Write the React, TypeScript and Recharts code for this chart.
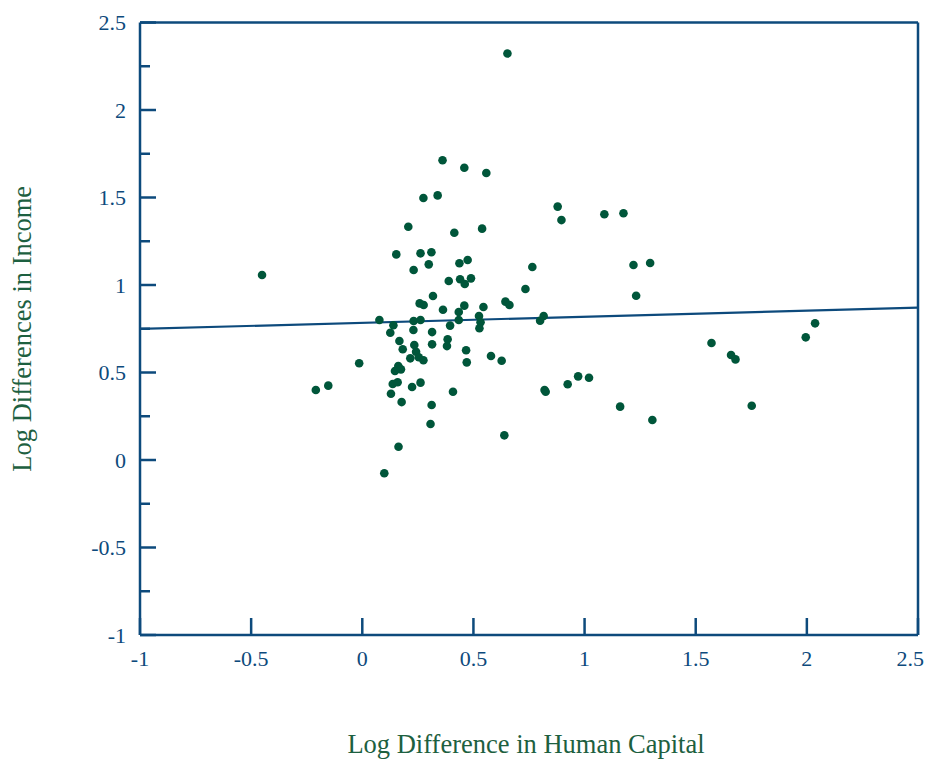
import { ScatterChart, Scatter, XAxis, YAxis, ReferenceLine, Label } from 'recharts';

const AXIS = '#0d4a7c';
const DOT = '#00563a';
const TITLE = '#1d6040';
const FONT = '"Liberation Serif", "DejaVu Serif", serif';

// log difference in human capital (x) / income (y), one entry per country pair
const hcapDiff = [
  0.653, 0.361, 0.459, 0.558, 0.275, 0.339, 0.879, 0.896, 1.089, 1.175,
  0.207, 0.414, 0.539, 0.153, 0.262, 0.311, 0.299, 0.231, 0.437, 0.474,
  0.765, 1.22, 1.295, 0.389, 0.44, 0.461, 0.489, 0.734, 1.232, 0.318,
  0.258, 0.276, 0.363, 0.459, 0.434, 0.545, 0.644, 0.662, 0.525, 0.532,
  0.527, 0.434, 0.395, 0.314, 0.231, 0.262, 0.23, 0.077, 0.14, 0.126,
  0.8, 0.816, 0.167, 0.182, 0.234, 0.242, 0.314, 0.384, 0.381, 0.467,
  0.47, 0.216, 0.254, 0.275, 0.579, 0.627, 0.162, 0.174, 0.147, 0.137,
  0.159, 0.129, 0.224, 0.262, 0.408, 0.177, 0.312, 0.307, 0.163, 0.639,
  0.82, 0.825, 0.924, 0.971, 1.02, 1.16, 1.305, 1.571, 1.659, 1.679,
  1.995, 2.037, 1.752, -0.451, -0.014, -0.209, -0.153, 0.099,
];
const incomeDiff = [
  2.323, 1.713, 1.67, 1.64, 1.497, 1.512, 1.448, 1.371, 1.404, 1.41,
  1.333, 1.299, 1.322, 1.175, 1.181, 1.187, 1.118, 1.086, 1.124, 1.143,
  1.103, 1.114, 1.126, 1.023, 1.033, 1.006, 1.038, 0.977, 0.939, 0.937,
  0.895, 0.886, 0.859, 0.882, 0.846, 0.874, 0.905, 0.886, 0.823, 0.787,
  0.753, 0.8, 0.768, 0.731, 0.794, 0.8, 0.743, 0.8, 0.77, 0.727,
  0.796, 0.823, 0.68, 0.633, 0.657, 0.619, 0.661, 0.69, 0.651, 0.627,
  0.558, 0.581, 0.587, 0.57, 0.594, 0.567, 0.537, 0.518, 0.509, 0.434,
  0.444, 0.379, 0.417, 0.442, 0.39, 0.331, 0.314, 0.206, 0.076, 0.141,
  0.4, 0.39, 0.433, 0.478, 0.47, 0.305, 0.229, 0.669, 0.6, 0.575,
  0.701, 0.781, 0.31, 1.057, 0.553, 0.4, 0.425, -0.076,
];

// fitted regression line endpoints
const fitX = [-1, 2.5];
const fitY = [0.749, 0.871];

const xTicks = [-1, -0.5, 0, 0.5, 1, 1.5, 2, 2.5];
const yTicks = [-1, -0.75, -0.5, -0.25, 0, 0.25, 0.5, 0.75, 1, 1.25, 1.5, 1.75, 2, 2.25, 2.5];

const points = hcapDiff.map((x, i) => ({ x, y: incomeDiff[i] }));

const isMajor = (v: number) => Math.abs(v * 2 - Math.round(v * 2)) < 1e-6;

function YTick({ x, y, payload }: any) {
  const v = payload.value;
  const major = isMajor(v);
  return (
    <g>
      <line x1={x} x2={x + (major ? 16 : 10)} y1={y} y2={y} stroke={AXIS} strokeWidth={2.5} />
      {major && (
        <text x={x - 14} y={y} textAnchor="end" dominantBaseline="central"
          fontFamily={FONT} fontSize={22} fill={AXIS}>
          {String(v)}
        </text>
      )}
    </g>
  );
}

function XTick({ x, y, payload }: any) {
  const last = payload.value === xTicks[xTicks.length - 1];
  return (
    <g>
      <line x1={x} x2={x} y1={y} y2={y - 17} stroke={AXIS} strokeWidth={2.5} />
      <text x={last ? x + 6 : x} y={y + 23} textAnchor={last ? 'end' : 'middle'} dominantBaseline="central"
        fontFamily={FONT} fontSize={22} fill={AXIS}>
        {String(payload.value)}
      </text>
    </g>
  );
}

export default function App() {
  return (
    <div style={{ width: 917, height: 752 }}>
      <ScatterChart width={917} height={752} margin={{ top: 14.5, right: 7, left: 0, bottom: 0 }}>
        <XAxis
          type="number" dataKey="x" domain={[-1, 2.5]} ticks={xTicks} interval={0}
          height={125} tickSize={0} tickMargin={0} tickLine={false}
          axisLine={{ stroke: AXIS, strokeWidth: 2.5 }} tick={<XTick />}
          allowDataOverflow
        >
          <Label value="Log Difference in Human Capital" position="insideBottom" offset={7} dx={-3}
            style={{ fill: TITLE, fontFamily: FONT, fontSize: 26.5 }} />
        </XAxis>
        <YAxis
          type="number" dataKey="y" domain={[-1, 2.5]} ticks={yTicks} interval={0}
          width={132} tickSize={0} tickMargin={0} tickLine={false}
          axisLine={{ stroke: AXIS, strokeWidth: 2.5 }} tick={<YTick />}
          allowDataOverflow
        >
          <Label value="Log Differences in Income" angle={-90} position="insideLeft" offset={14}
            style={{ fill: TITLE, fontFamily: FONT, fontSize: 26.5, textAnchor: 'middle' }} />
        </YAxis>
        <ReferenceLine y={2.5} stroke={AXIS} strokeWidth={2.5} />
        <ReferenceLine x={2.5} stroke={AXIS} strokeWidth={2.5} />
        <ReferenceLine
          segment={[{ x: fitX[0], y: fitY[0] }, { x: fitX[1], y: fitY[1] }]}
          stroke={AXIS} strokeWidth={2.2}
        />
        <Scatter
          data={points} fill={DOT} isAnimationActive={false}
          shape={(p: any) => <circle cx={p.cx} cy={p.cy} r={4.3} fill={DOT} />}
        />
      </ScatterChart>
    </div>
  );
}
